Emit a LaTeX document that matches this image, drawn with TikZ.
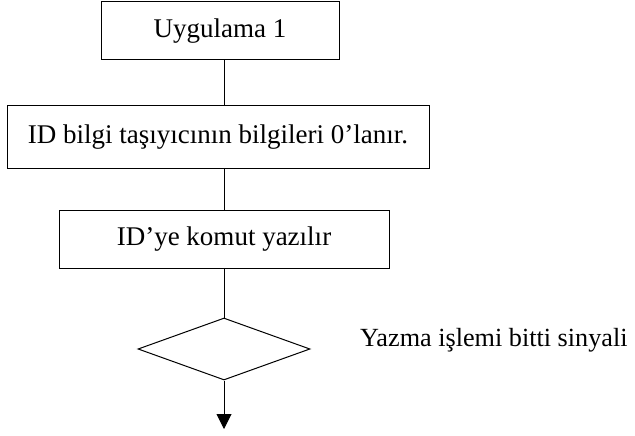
\documentclass[tikz,border=0pt]{standalone}
\usepackage{fontspec}
\setmainfont{Liberation Serif}
\usetikzlibrary{shapes.geometric,arrows.meta}
\begin{document}
\begin{tikzpicture}[x=1pt,y=-1pt,
  every node/.style={font=\fontsize{27}{31}\selectfont, inner sep=0pt},
  stepbox/.style={draw, line width=1pt, rectangle},
  decision/.style={draw, line width=1pt, diamond, shape aspect=2.77},
  sidelabel/.style={font=\fontsize{26.2}{30}\selectfont, anchor=base west},
  link/.style={line width=1pt},
  flowarrow/.style={line width=1pt, -{Triangle[width=15pt,length=15pt]}}]
  \useasboundingbox (0,0) rectangle (635,436);
  % process boxes
  \node[stepbox, minimum width=238pt, minimum height=58pt] (b1) at (220,31) {Uygulama 1};
  \node[stepbox, minimum width=422pt, minimum height=62pt] (b2) at (218,137) {ID bilgi taşıyıcının bilgileri 0’lanır.};
  \node[stepbox, minimum width=330pt, minimum height=58pt] (b3) at (224,239) {ID’ye komut yazılır};
  % decision
  \node[decision, minimum width=172pt, minimum height=62pt] (d) at (224,349) {};
  \node[sidelabel] (lbl) at (360,346) {Yazma işlemi bitti sinyali};
  \coordinate (out) at (224,429);
  % connectors
  \draw[link] (b1.south -| d.north) -- (b2.north -| d.north);
  \draw[link] (b2.south -| d.north) -- (b3.north -| d.north);
  \draw[link] (b3.south -| d.north) -- (d.north);
  \draw[flowarrow] (d.south) -- (out);
\end{tikzpicture}
\end{document}
